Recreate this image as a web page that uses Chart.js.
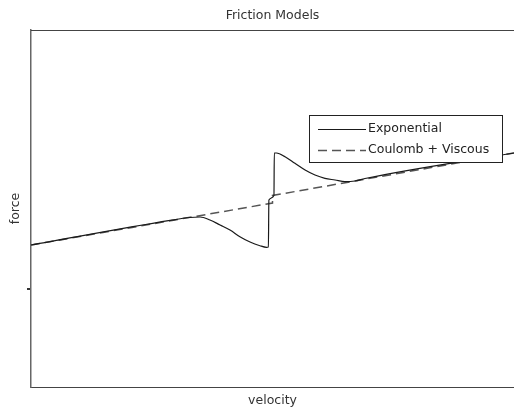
<!DOCTYPE html>
<html>
<head>
<meta charset="utf-8">
<script src="https://cdn.jsdelivr.net/npm/chart.js@4.4.1/dist/chart.umd.min.js"></script>
<style>
  html, body { margin: 0; padding: 0; background: #fff; }
  #wrap { width: 514px; height: 410px; }
</style>
</head>
<body>
<div id="wrap"><canvas id="c" width="514" height="410"></canvas></div>
<script>
// Velocity samples and force values
const expVelocity = [-1, -0.424, -0.342, -0.300, -0.259, -0.217, -0.176, -0.135, -0.093, -0.052, -0.025, -0.017, -0.015, 0.006, 0.0075, 0.017, 0.052, 0.093, 0.135, 0.176, 0.217, 0.259, 0.300, 0.342, 0.383, 1];
const expForce    = [0.44, 0.686, 0.715, 0.72, 0.69, 0.64, 0.59, 0.523, 0.47, 0.433, 0.417, 0.42, 0.89, 0.935, 1.36, 1.36, 1.323, 1.257, 1.19, 1.14, 1.107, 1.09, 1.073, 1.08, 1.105, 1.36];
const cvVelocity  = [-1, 0, 0, 1];
const cvForce     = [0.44, 0.86, 0.935, 1.36];
const yTickValues = [0];
const seriesLabels = ['Exponential', 'Coulomb + Viscous'];

const FONT = 'DejaVu Sans';

const toPts = (xs, ys) => xs.map((x, i) => ({ x: x, y: ys[i] }));

const framePlugin = {
  id: 'frame',
  afterDraw(chart) {
    const { ctx, chartArea } = chart;
    ctx.save();
    ctx.strokeStyle = '#444';
    ctx.lineWidth = 1;
    ctx.beginPath();
    ctx.moveTo(chartArea.left, chartArea.top + 0.5);
    ctx.lineTo(chartArea.right, chartArea.top + 0.5);
    ctx.stroke();
    ctx.restore();
  }
};

const boxLegend = {
  id: 'boxLegend',
  afterDraw(chart) {
    const { ctx } = chart;
    const bx = 309.5, by = 115.5, bw = 193, bh = 47;
    ctx.save();
    ctx.fillStyle = '#fff';
    ctx.fillRect(bx, by, bw, bh);
    ctx.strokeStyle = '#222';
    ctx.lineWidth = 1;
    ctx.strokeRect(bx, by, bw, bh);
    ctx.font = '12.5px "' + FONT + '"';
    ctx.textBaseline = 'middle';
    ctx.fillStyle = '#222';
    const rows = [129, 150];
    chart.data.datasets.forEach((ds, i) => {
      const y = rows[i] + 0.5;
      ctx.strokeStyle = ds.borderColor;
      ctx.lineWidth = ds.borderWidth;
      ctx.setLineDash(ds.borderDash || []);
      ctx.beginPath();
      ctx.moveTo(318, y);
      ctx.lineTo(366, y);
      ctx.stroke();
      ctx.setLineDash([]);
      ctx.fillText(ds.label, 368, rows[i]);
    });
    ctx.restore();
  }
};

new Chart(document.getElementById('c'), {
  type: 'line',
  data: {
    datasets: [
      {
        label: seriesLabels[0],
        data: toPts(expVelocity, expForce),
        borderColor: '#1a1a1a',
        borderWidth: 1.2,
        pointRadius: 0,
        cubicInterpolationMode: 'monotone',
        fill: false
      },
      {
        label: seriesLabels[1],
        data: toPts(cvVelocity, cvForce),
        borderColor: '#555',
        borderWidth: 1.5,
        borderDash: [9, 5],
        pointRadius: 0,
        tension: 0,
        fill: false
      }
    ]
  },
  options: {
    responsive: false,
    animation: false,
    layout: { padding: { left: 4, right: 0, top: 0, bottom: 0 } },
    plugins: {
      legend: { display: false },
      tooltip: { enabled: false },
      title: {
        display: true,
        fullSize: false,
        text: 'Friction Models',
        color: '#333',
        font: { family: FONT, size: 12.5, weight: 'normal' },
        padding: { top: 8, bottom: 7 }
      }
    },
    scales: {
      x: {
        type: 'linear',
        min: -1,
        max: 1,
        ticks: { display: false },
        grid: { display: false, drawTicks: false },
        border: { display: true, color: '#444', width: 1 },
        title: {
          display: true,
          text: 'velocity',
          color: '#333',
          font: { family: FONT, size: 12.5 },
          padding: { top: 6, bottom: 2 }
        }
      },
      y: {
        type: 'linear',
        min: -0.98,
        max: 2.59,
        afterBuildTicks(scale) {
          scale.ticks = yTickValues.map(v => ({ value: v }));
        },
        ticks: { display: false },
        grid: { display: true, drawOnChartArea: false, drawTicks: true, tickLength: 4, color: '#333', lineWidth: 2 },
        border: { display: true, color: '#666', width: 1.5 },
        title: {
          display: true,
          text: 'force',
          color: '#333',
          font: { family: FONT, size: 12.5 },
          padding: { top: 4, bottom: 4 }
        }
      }
    }
  },
  plugins: [framePlugin, boxLegend]
});
</script>
</body>
</html>
